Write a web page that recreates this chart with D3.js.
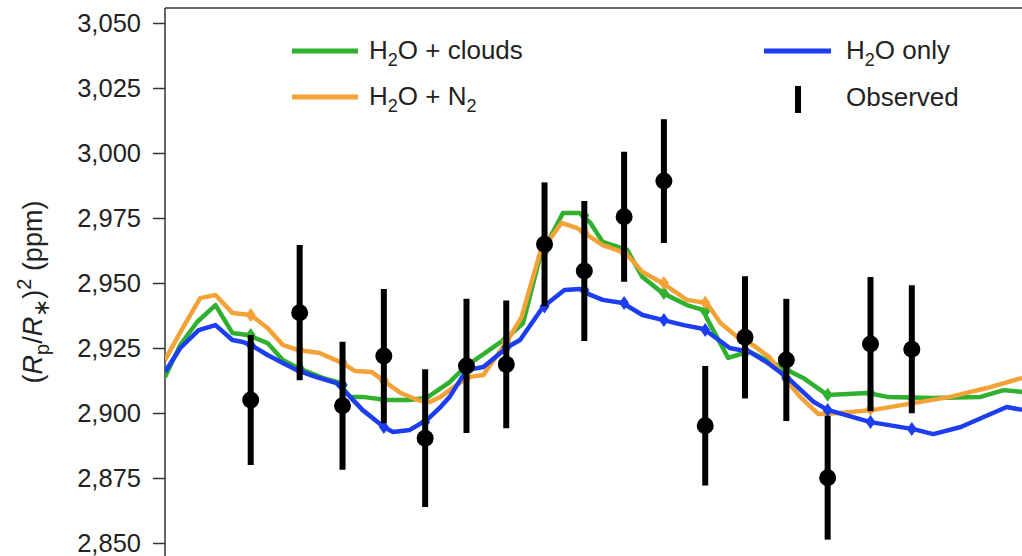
<!DOCTYPE html>
<html>
<head>
<meta charset="utf-8">
<script src="https://cdn.jsdelivr.net/npm/d3@7"></script>
<style>
  html, body { margin: 0; padding: 0; background: #fff; }
  svg { display: block; font-family: "Liberation Sans", Arial, Helvetica, sans-serif; }
</style>
</head>
<body>
<svg id="chart" width="1022" height="556"></svg>
<script>
// Observed transit depths (ppm) with 1-sigma uncertainties, per spectral bin (µm)
const obsWavelength = [1.156, 1.188, 1.216, 1.243, 1.270, 1.297, 1.323, 1.348, 1.374,
                       1.400, 1.426, 1.453, 1.479, 1.506, 1.533, 1.561, 1.588];
const obsDepth = [2905.0, 2938.6, 2902.8, 2921.9, 2890.3, 2918.1, 2918.7, 2964.9, 2954.6,
                  2975.5, 2989.2, 2895.1, 2929.1, 2920.4, 2875.1, 2926.5, 2924.5];
const obsError = [25.0, 26.0, 24.6, 25.8, 26.5, 25.8, 24.6, 23.8, 26.9,
                  25.0, 23.8, 23.0, 23.5, 23.5, 23.8, 25.8, 24.6];

// Model spectra: H2O + clouds
const cloudsWavelength = [1.100, 1.110, 1.121, 1.133, 1.144, 1.154, 1.167, 1.177, 1.187, 1.203,
  1.213, 1.221, 1.229, 1.245, 1.259, 1.271, 1.286, 1.296, 1.324, 1.334, 1.345, 1.360, 1.371,
  1.378, 1.386, 1.402, 1.412, 1.425, 1.441, 1.452, 1.454, 1.468, 1.474, 1.482, 1.504, 1.517,
  1.533, 1.559, 1.572, 1.602, 1.633, 1.648, 1.660];
const cloudsDepth = [2913.8, 2926.2, 2935.0, 2941.5, 2930.8, 2930.0, 2926.9, 2920.4, 2917.3, 2913.5,
  2911.9, 2906.2, 2906.2, 2905.0, 2905.0, 2905.8, 2911.9, 2917.7, 2929.2, 2934.6, 2960.0, 2976.9, 2976.9,
  2973.1, 2965.8, 2962.7, 2952.3, 2946.2, 2941.5, 2939.6, 2936.5, 2921.2, 2922.3, 2923.5, 2917.3, 2913.5,
  2906.9, 2907.7, 2906.2, 2905.8, 2906.2, 2908.8, 2908.1];

// Model spectra: H2O + N2
const n2Wavelength = [1.100, 1.112, 1.123, 1.133, 1.144, 1.156, 1.167, 1.177, 1.187, 1.201,
  1.216, 1.224, 1.235, 1.245, 1.254, 1.265, 1.273, 1.280, 1.286, 1.298, 1.308, 1.324, 1.333,
  1.345, 1.359, 1.369, 1.376, 1.386, 1.401, 1.412, 1.425, 1.441, 1.454, 1.463, 1.474, 1.484,
  1.495, 1.507, 1.515, 1.527, 1.541, 1.563, 1.589, 1.613, 1.637, 1.660];
const n2Depth = [2920.4, 2933.1, 2944.2, 2945.4, 2938.5, 2937.7, 2932.7, 2926.2, 2924.2, 2923.1,
  2919.2, 2916.2, 2915.8, 2911.5, 2907.7, 2905.0, 2904.2, 2906.2, 2908.8, 2913.8, 2914.6, 2928.1, 2936.9,
  2961.5, 2973.1, 2971.2, 2968.5, 2964.6, 2961.5, 2954.2, 2950.0, 2943.5, 2942.3, 2934.6, 2929.2, 2926.2,
  2921.5, 2911.9, 2906.2, 2899.6, 2900.0, 2901.2, 2903.8, 2906.2, 2909.6, 2913.5];

// Model spectra: H2O only
const h2oWavelength = [1.100, 1.110, 1.122, 1.133, 1.144, 1.151, 1.156, 1.167, 1.177, 1.186,
  1.199, 1.212, 1.221, 1.229, 1.243, 1.249, 1.260, 1.271, 1.280, 1.286, 1.297, 1.308, 1.324,
  1.332, 1.347, 1.361, 1.371, 1.378, 1.386, 1.399, 1.412, 1.425, 1.439, 1.452, 1.469, 1.482,
  1.493, 1.507, 1.524, 1.533, 1.561, 1.589, 1.602, 1.620, 1.650, 1.660];
const h2oDepth = [2915.8, 2925.0, 2931.9, 2933.8, 2928.1, 2927.3, 2926.2, 2922.3, 2919.2, 2916.5,
  2913.8, 2911.5, 2906.2, 2901.2, 2894.6, 2892.7, 2893.5, 2897.3, 2902.3, 2906.2, 2916.5, 2917.7, 2925.4,
  2928.1, 2940.8, 2947.3, 2947.7, 2945.4, 2943.5, 2942.3, 2937.7, 2935.8, 2933.8, 2932.3, 2925.0, 2923.5,
  2919.6, 2913.5, 2904.2, 2901.2, 2896.5, 2893.8, 2891.9, 2894.6, 2902.3, 2901.2];

// Models binned to the observed spectral bins
const cloudsBinned = [2930.0, 2917.3, 2910.5, 2905.0, 2905.8, 2917.5, 2928.5, 2962.0, 2976.0,
                      2962.7, 2946.2, 2939.0, 2923.0, 2916.5, 2907.0, 2907.7, 2906.0];
const n2Binned = [2937.7, 2924.2, 2919.5, 2912.5, 2904.5, 2913.5, 2927.5, 2964.0, 2969.5,
                  2961.5, 2950.0, 2942.5, 2927.5, 2913.0, 2900.0, 2901.5, 2903.8];
const h2oBinned = [2926.2, 2916.5, 2911.0, 2894.6, 2896.5, 2916.5, 2925.2, 2941.0, 2947.3,
                   2942.3, 2935.8, 2931.9, 2924.2, 2913.5, 2901.2, 2896.5, 2893.8];

const yTicks = [2850, 2875, 2900, 2925, 2950, 2975, 3000, 3025, 3050];

const colors = { clouds: "#2fb02f", n2: "#f2a236", h2o: "#1c3ef0", obs: "#000000" };

const svg = d3.select("#chart");
const W = 1022, H = 556;
const plot = { left: 165, right: 1022, top: 8, bottom: 560 };

const x = d3.scaleLinear().domain([1.10, 1.66]).range([plot.left, plot.right]);
const y = d3.scaleLinear().domain([2850, 3050]).range([543, 23]);

svg.append("defs").append("clipPath").attr("id", "plotClip")
  .append("rect").attr("x", plot.left).attr("y", plot.top)
  .attr("width", plot.right - plot.left).attr("height", plot.bottom - plot.top);

// Frame: top border
svg.append("line").attr("x1", plot.left).attr("x2", plot.right)
  .attr("y1", plot.top).attr("y2", plot.top)
  .attr("stroke", "#333").attr("stroke-width", 1.5);

// Y axis
const yAxis = d3.axisLeft(y).tickValues(yTicks).tickFormat(d3.format(","))
  .tickSizeInner(12).tickSizeOuter(0).tickPadding(12);
const gy = svg.append("g").attr("transform", `translate(${plot.left},0)`).call(yAxis);
gy.select(".domain").remove();
gy.selectAll(".tick line").attr("stroke", "#333").attr("stroke-width", 1.5);
gy.selectAll(".tick text").attr("fill", "#222").style("font-size", "25.5px")
  .style("font-family", "'Liberation Sans', Arial, sans-serif");
svg.append("line").attr("x1", plot.left).attr("x2", plot.left)
  .attr("y1", plot.top).attr("y2", H)
  .attr("stroke", "#333").attr("stroke-width", 1.5);

// Y axis title: (Rp/R*)^2 (ppm)
const yl = svg.append("text")
  .attr("transform", "translate(42,292) rotate(-90)")
  .attr("text-anchor", "middle")
  .attr("fill", "#222").style("font-size", "27px");
yl.append("tspan").text("(");
yl.append("tspan").attr("font-style", "italic").text("R");
yl.append("tspan").attr("dy", 7).style("font-size", "20px").text("p");
yl.append("tspan").attr("dy", -7).text("/");
yl.append("tspan").attr("font-style", "italic").text("R");
yl.append("tspan").attr("dy", 7).style("font-size", "22px").text("∗");
yl.append("tspan").attr("dy", -7).text(")");
yl.append("tspan").attr("dy", -11).style("font-size", "20px").text("2");
yl.append("tspan").attr("dy", 11).text(" (ppm)");

// Model spectra
const models = [
  { key: "clouds", wl: cloudsWavelength, depth: cloudsDepth, binned: cloudsBinned },
  { key: "n2", wl: n2Wavelength, depth: n2Depth, binned: n2Binned },
  { key: "h2o", wl: h2oWavelength, depth: h2oDepth, binned: h2oBinned }
];

const line = d3.line().x(d => x(d[0])).y(d => y(d[1]));
const gModels = svg.append("g").attr("clip-path", "url(#plotClip)");

models.forEach(m => {
  const pts = m.wl.map((w, i) => [w, m.depth[i]]);
  gModels.append("path").datum(pts)
    .attr("d", line)
    .attr("fill", "none")
    .attr("stroke", colors[m.key])
    .attr("stroke-width", 4.5)
    .attr("stroke-linejoin", "round");
  // Binned model values shown as diamonds
  gModels.selectAll(null).data(obsWavelength.map((w, i) => [w, m.binned[i]]))
    .join("path")
    .attr("transform", d => `translate(${x(d[0])},${y(d[1])})`)
    .attr("d", "M0,-7L5,0L0,7L-5,0Z")
    .attr("fill", colors[m.key]);
});

// Observed points with error bars
const gObs = svg.append("g");
const obs = obsWavelength.map((w, i) => ({ w, v: obsDepth[i], e: obsError[i] }));
gObs.selectAll("line.err").data(obs).join("line")
  .attr("class", "err")
  .attr("x1", d => x(d.w)).attr("x2", d => x(d.w))
  .attr("y1", d => y(d.v + d.e)).attr("y2", d => y(d.v - d.e))
  .attr("stroke", colors.obs).attr("stroke-width", 6);
gObs.selectAll("circle").data(obs).join("circle")
  .attr("cx", d => x(d.w)).attr("cy", d => y(d.v)).attr("r", 8.5)
  .attr("fill", colors.obs);

// Legend
const legend = svg.append("g").style("font-size", "26px");
function h2oLabel(g, xPos, yPos, rest, sub2) {
  const t = g.append("text").attr("x", xPos).attr("y", yPos).attr("fill", "#222");
  t.append("tspan").text("H");
  t.append("tspan").attr("dy", 7).style("font-size", "18px").text("2");
  t.append("tspan").attr("dy", -7).text(rest);
  if (sub2) t.append("tspan").attr("dy", 7).style("font-size", "18px").text(sub2);
  return t;
}
const legendItems = [
  { key: "clouds", x1: 292, x2: 358, y: 51, tx: 369, rest: "O + clouds" },
  { key: "n2", x1: 292, x2: 358, y: 97, tx: 369, rest: "O + N", sub: "2" },
  { key: "h2o", x1: 764, x2: 831, y: 51, tx: 846, rest: "O only" }
];
legendItems.forEach(it => {
  legend.append("line").attr("x1", it.x1).attr("x2", it.x2)
    .attr("y1", it.y).attr("y2", it.y)
    .attr("stroke", colors[it.key]).attr("stroke-width", 5);
  h2oLabel(legend, it.tx, it.y + 8, it.rest, it.sub);
});
legend.append("line").attr("x1", 798).attr("x2", 798).attr("y1", 86).attr("y2", 113)
  .attr("stroke", colors.obs).attr("stroke-width", 6);
legend.append("text").attr("x", 846).attr("y", 106).attr("fill", "#222").text("Observed");
</script>
</body>
</html>
